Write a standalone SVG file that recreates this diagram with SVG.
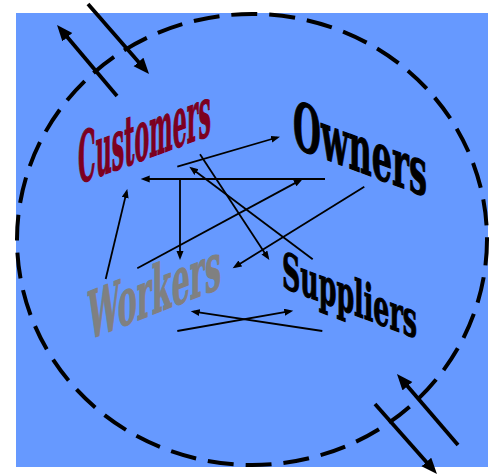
<svg xmlns="http://www.w3.org/2000/svg" width="491" height="474" viewBox="0 0 491 474">
  <style>
    .lbl { font-family: "DejaVu Serif", "Liberation Serif", serif; font-weight: bold; stroke-width: 1.2; stroke-linejoin: round; }
    .thin { stroke: #000; stroke-width: 1.8; fill: none; marker-end: url(#ah); }
    .thick { stroke: #000; stroke-width: 3.8; fill: none; marker-end: url(#ahBig); }
  </style>
  <defs>
    <marker id="ah" markerUnits="userSpaceOnUse" markerWidth="10" markerHeight="8" refX="6" refY="3.5" orient="auto">
      <path d="M0,0 L9,3.5 L0,7 z" fill="#000"/>
    </marker>
    <marker id="ahBig" markerUnits="userSpaceOnUse" markerWidth="17" markerHeight="14" refX="10" refY="6.5" orient="auto">
      <path d="M0,0 L16,6.5 L0,13 z" fill="#000"/>
    </marker>
  </defs>
  <rect x="0" y="0" width="491" height="474" fill="#fff"/>
  <rect x="16" y="13" width="472" height="454" fill="#6699FF"/>
  <ellipse id="boundary" cx="252" cy="239.5" rx="235" ry="225.5" fill="none" stroke="#000" stroke-width="4" stroke-dasharray="26 12"/>

  <g id="customers" transform="translate(78,184) skewY(-20.3)">
    <text class="lbl" x="0" y="0" font-size="70" fill="#7d0020" stroke="#7d0020" textLength="133" lengthAdjust="spacingAndGlyphs">Customers</text>
  </g>
  <g id="owners" transform="translate(293,147) skewY(20.5)">
    <text class="lbl" x="0" y="0" font-size="66" fill="#000" stroke="#000" textLength="134" lengthAdjust="spacingAndGlyphs">Owners</text>
  </g>
  <g id="workers" transform="translate(88,340) skewY(-21.5)">
    <text class="lbl" x="0" y="0" font-size="66" fill="#808080" stroke="#808080" textLength="133" lengthAdjust="spacingAndGlyphs">Workers</text>
  </g>
  <g id="suppliers" transform="translate(282,287) skewY(21)">
    <text class="lbl" x="0" y="0" font-size="50" fill="#000" stroke="#000" textLength="135" lengthAdjust="spacingAndGlyphs">Suppliers</text>
  </g>

  <g id="connectors">
    <line class="thin" x1="177.3" y1="166.7" x2="277.1" y2="137.5"/>
    <line class="thin" x1="325" y1="179" x2="143.7" y2="179"/>
    <line class="thin" x1="180" y1="179" x2="180" y2="257"/>
    <line class="thin" x1="137.3" y1="268.3" x2="300.1" y2="180.4"/>
    <line class="thin" x1="364.3" y1="186.7" x2="235.2" y2="266.7"/>
    <line class="thin" x1="200" y1="154.3" x2="267.7" y2="257.5"/>
    <line class="thin" x1="312.7" y1="259.3" x2="191.7" y2="168.5"/>
    <line class="thin" x1="105.7" y1="279" x2="126.6" y2="191.9"/>
    <line class="thin" x1="177.3" y1="331" x2="290.3" y2="311.2"/>
    <line class="thin" x1="322.3" y1="331" x2="193.7" y2="311.7"/>

    <line class="thick" x1="117" y1="96" x2="60.9" y2="29.6"/>
    <line class="thick" x1="88" y1="4" x2="145.1" y2="69.5"/>
    <line class="thick" x1="458" y1="445" x2="400.9" y2="378.6"/>
    <line class="thick" x1="375" y1="404" x2="433" y2="469.5"/>
  </g>
</svg>
